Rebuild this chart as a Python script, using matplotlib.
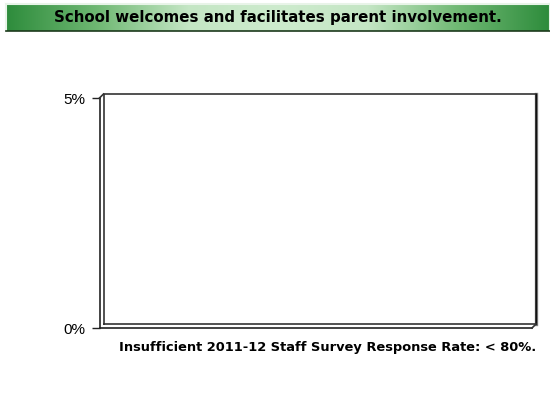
import matplotlib.pyplot as plt
import matplotlib.transforms as mtransforms
import numpy as np
from matplotlib.colors import LinearSegmentedColormap

# Survey chart: no responses to plot, only the empty 3D frame
title = "School welcomes and facilitates parent involvement."
caption = "Insufficient 2011-12 Staff Survey Response Rate: < 80%."
categories = []
values = []
y_ticks = [0, 5]
y_tick_labels = ["0%", "5%"]

W, H = 550, 401
fig = plt.figure(figsize=(W / 100, H / 100), dpi=100)
plt.rcParams["font.family"] = ["Liberation Sans", "DejaVu Sans"]


def px_box(x0, y0, x1, y1):
    # pixel box (top-left origin) -> figure fraction rect
    return [x0 / W, 1 - y1 / H, (x1 - x0) / W, (y1 - y0) / H]


# green title banner with horizontal gradient
bax = fig.add_axes(px_box(6, 4, 550, 31))
green = LinearSegmentedColormap.from_list(
    "banner", ["#2e8c3c", "#6fb873", "#c4e6c4", "#cdebcd", "#c4e6c4", "#6fb873", "#2e8c3c"])
grad = np.linspace(0, 1, 256).reshape(1, -1)
bax.imshow(grad, aspect="auto", cmap=green, extent=[0, 1, 0, 1])
bax.set_xlim(0, 1)
bax.set_ylim(0, 1)
bax.set_xticks([])
bax.set_yticks([])
for side in ["top", "left", "right"]:
    bax.spines[side].set_color("#e8f4e8")
    bax.spines[side].set_linewidth(1.5)
bax.spines["bottom"].set_color("#1c3a1c")
bax.spines["bottom"].set_linewidth(1.2)
bax.text(0.5, 0.5, title, ha="center", va="center",
         fontsize=10.8, fontweight="bold", color="black", family="DejaVu Sans")

# front plane of the chart
ax = fig.add_axes(px_box(99.5, 98, 532, 328))
ax.set_ylim(0, 5)
ax.set_xlim(0, 1)
ax.bar(range(len(categories)), values)
ax.set_yticks(y_ticks)
ax.set_yticklabels(y_tick_labels, fontsize=11)
ax.set_xticks([])
ax.tick_params(axis="y", length=6, width=1, color="#222222", pad=4)
ax.spines["top"].set_visible(False)
ax.spines["right"].set_visible(False)
for side in ["left", "bottom"]:
    ax.spines[side].set_color("#222222")
    ax.spines[side].set_linewidth(1.2)

# back wall shifted by the depth offset
depth = 4 / 100  # inches
back = ax.transAxes + mtransforms.ScaledTranslation(depth, depth, fig.dpi_scale_trans)
lc = "#333333"
ax.plot([0, 1, 1, 0, 0], [0, 0, 1, 1, 0], transform=back, color=lc, lw=1.2,
        clip_on=False, solid_joinstyle="miter")
# right side of back wall in grey shading
ax.plot([1, 1], [0, 1], transform=back, color="#888888", lw=2.4, clip_on=False, zorder=1)
ax.plot([1, 1], [0, 1], transform=back, color="#111111", lw=1.0, clip_on=False, zorder=2)

# depth edges joining front and back planes
inv = fig.transFigure.inverted()
for (x, y) in [(0, 1), (1, 0)]:
    f0 = inv.transform(ax.transAxes.transform((x, y)))
    f1 = inv.transform(back.transform((x, y)))
    fig.add_artist(plt.Line2D([f0[0], f1[0]], [f0[1], f1[1]], color=lc, lw=1.2))

fig.text(327.5 / W, 1 - 348 / H, caption, ha="center", va="center",
         fontsize=9.4, fontweight="bold", color="black", family="DejaVu Sans")

fig.savefig("out.png", dpi=100)
